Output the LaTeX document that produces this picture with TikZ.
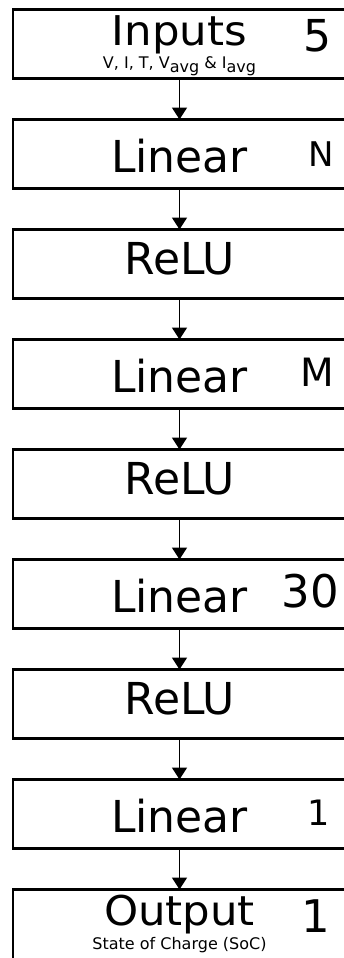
\documentclass[tikz,border=0pt]{standalone}
\usepackage{fontspec}
\setmainfont{DejaVu Sans}
\usetikzlibrary{positioning, arrows.meta}

\tikzset{
  layer/.style={draw, line width=2.6pt, minimum width=333pt, minimum height=69pt,
    inner sep=0pt, outer sep=0pt, font=\fontsize{44}{48}\selectfont},
  linlayer/.style={layer, text height=36pt, text depth=0pt},
  relulayer/.style={layer, text height=32pt, text depth=12pt},
  iolayer/.style={layer, font=\fontsize{41}{44}\selectfont},
  subtext/.style={inner sep=0pt, font=\fontsize{16}{18}\selectfont},
  width/.style={inner sep=0pt, anchor=east, font=\fontsize{#1}{#1}\selectfont},
  arr/.style={-{Triangle[width=15pt,length=12pt]}, line width=1.7pt}
}

\begin{document}
\begin{tikzpicture}[node distance=41pt]
    \useasboundingbox (0,0) rectangle (343pt,-958pt);

    \node[iolayer, text height=30pt, text depth=26pt] (in) at (179.5pt,-44pt) {\scalebox{1.06}[1]{Inputs}};
    \node[linlayer] (lin1) [below=of in] {Linear};
    \node[relulayer] (relu1) [below=of lin1] {ReLU};
    \node[linlayer] (lin2) [below=of relu1] {Linear};
    \node[relulayer] (relu2) [below=of lin2] {ReLU};
    \node[linlayer] (lin3) [below=of relu2] {Linear};
    \node[relulayer] (relu3) [below=of lin3] {ReLU};
    \node[linlayer] (lin4) [below=of relu3] {Linear};
    \node[iolayer, minimum height=74pt, text height=30pt, text depth=33pt] (out) [below=of lin4] {\scalebox{1.06}[1]{Output}};

    % sub captions
    \node[subtext, anchor=base] (insub) at ([yshift=9.5pt]in.south)
        {V, I, T, V\raisebox{-3pt}{avg} \& I\raisebox{-3pt}{avg}};
    \node[subtext, anchor=base] (outsub) at ([yshift=-59.5pt]out.north)
        {State of Charge (SoC)};

    % layer widths
    \node[width=44] (w0) at ([xshift=-14pt,yshift=8pt]in.east) {5};
    \node[width=34] (w1) at ([xshift=-12pt]lin1.east) {N};
    \node[width=39] (w2) at ([xshift=-12pt,yshift=1.5pt]lin2.east) {M};
    \node[width=45] (w3) at ([xshift=-7pt,yshift=2.5pt]lin3.east) {30};
    \node[width=35] (w4) at ([xshift=-16pt,yshift=1.5pt]lin4.east) {1};
    \node[width=45] (w5) at ([xshift=-16pt,yshift=10pt]out.east) {1};

    \path[arr]
    (in) edge (lin1)
    (lin1) edge (relu1)
    (relu1) edge (lin2)
    (lin2) edge (relu2)
    (relu2) edge (lin3)
    (lin3) edge (relu3)
    (relu3) edge (lin4)
    (lin4) edge (out);
\end{tikzpicture}
\end{document}
